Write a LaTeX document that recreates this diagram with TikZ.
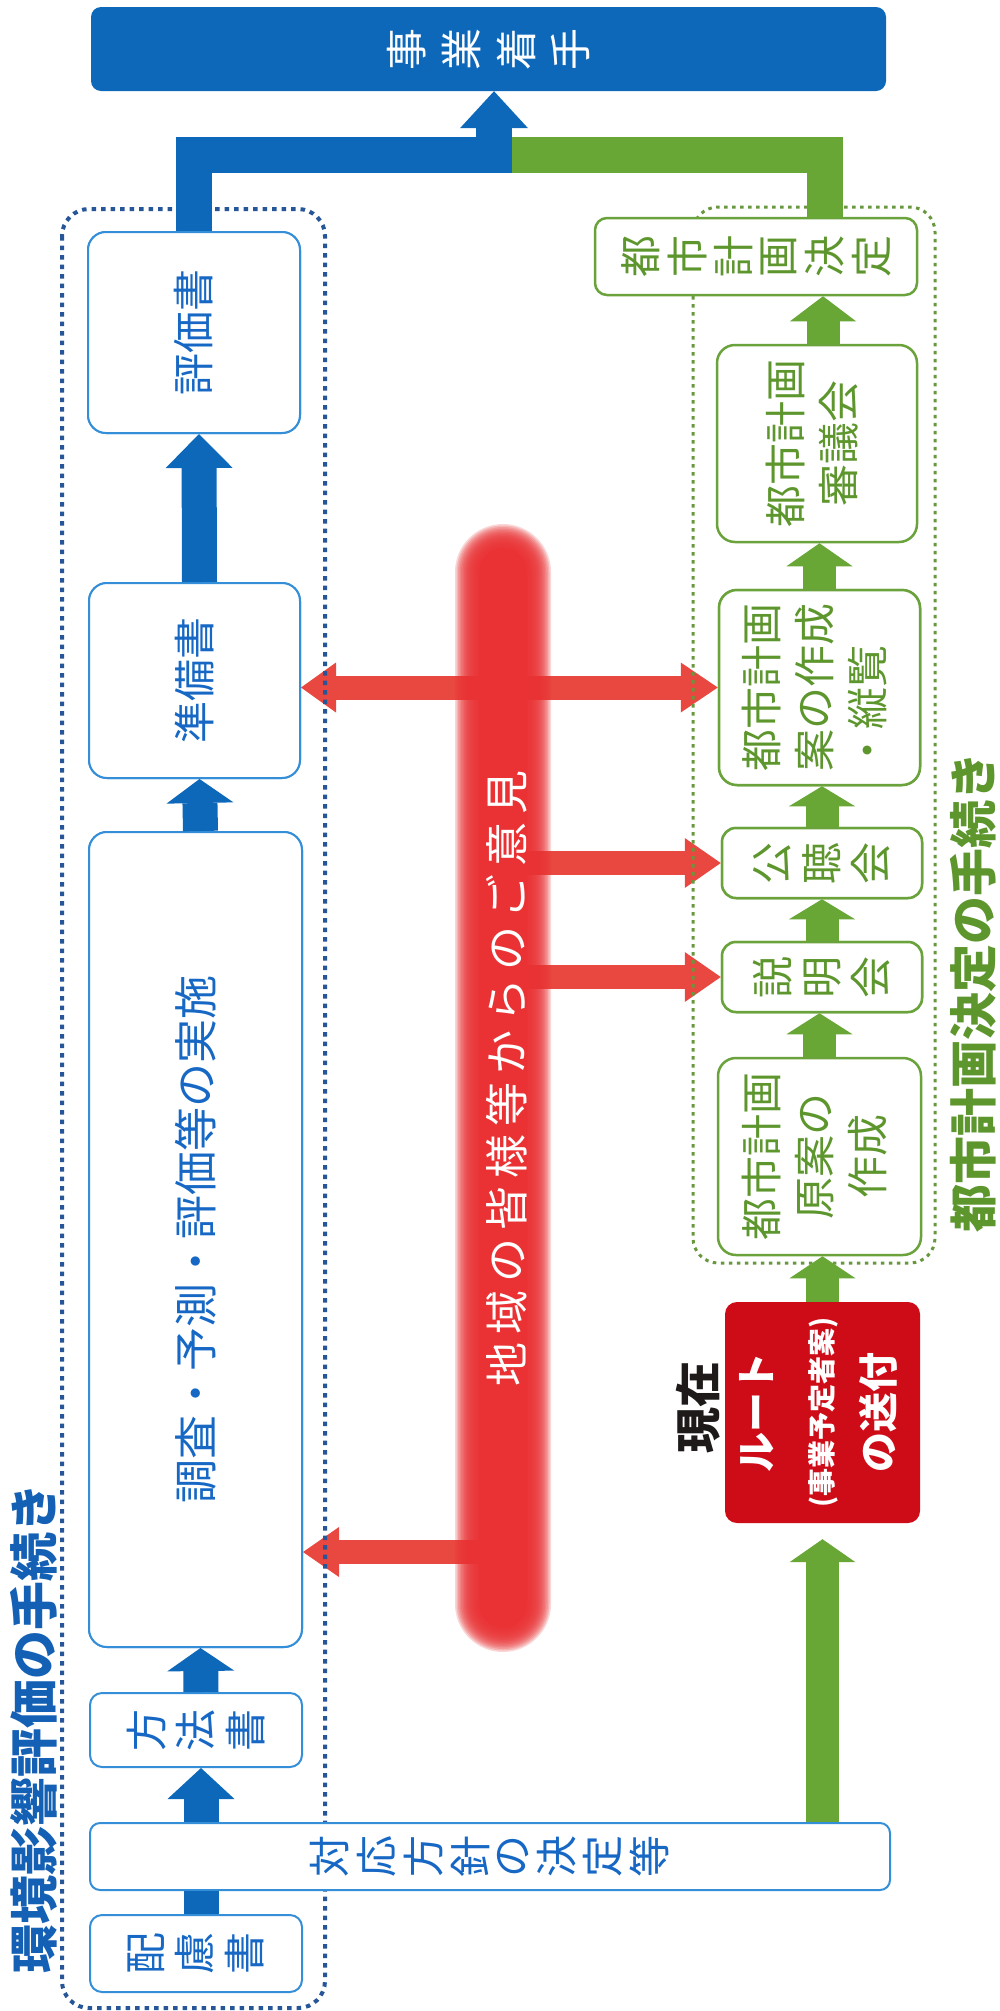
\documentclass[tikz,border=0pt]{standalone}
\usepackage{fontspec}
\usepackage{graphicx}
\newfontfamily\jp{Noto Sans CJK JP}
\usetikzlibrary{arrows.meta}
\definecolor{barblue}{RGB}{14,104,186}
\definecolor{boxblue}{RGB}{52,142,216}
\definecolor{txtblue}{RGB}{22,104,196}
\definecolor{dotblue}{RGB}{38,86,152}
\definecolor{titleblue}{RGB}{20,96,180}
\definecolor{gline}{RGB}{106,162,60}
\definecolor{garrowc}{RGB}{104,166,54}
\definecolor{gtext}{RGB}{94,150,46}
\definecolor{dotgreen}{RGB}{104,152,62}
\definecolor{redarr}{RGB}{232,72,64}
\definecolor{blobred}{RGB}{234,50,52}
\definecolor{routered}{RGB}{206,12,24}
\definecolor{nowblack}{RGB}{30,26,26}
\newcommand\R[1]{\rotatebox{90}{#1}}
\makeatletter
\newcommand\spaced[2]{\def\sp@sep{#1}\sp@first#2\@nil}
\def\sp@first#1{#1\sp@loop}
\def\sp@loop#1{\ifx#1\@nil\else\hspace{\sp@sep}#1\expandafter\sp@loop\fi}
\newcommand\rspaced[2]{\def\sp@sep{#1}\rsp@first#2\@nil}
\def\rsp@first#1{\rotatebox{90}{#1}\rsp@loop}
\def\rsp@loop#1{\ifx#1\@nil\else\hspace{\sp@sep}\rotatebox{90}{#1}\expandafter\rsp@loop\fi}
\makeatother
\tikzset{
  bbox/.style={draw=boxblue, line width=2pt, fill=white, rounded corners=18pt, inner sep=0pt,
    text=txtblue, font=\jp\fontsize{42}{53}\selectfont},
  gbox/.style={draw=gline, line width=2.5pt, fill=white, rounded corners=18pt, inner sep=0pt,
    text=gtext, font=\jp\fontsize{42}{53}\selectfont},
  barrow/.style={draw=barblue, line width=35pt, -{Triangle[length=#1,width=67pt,line width=0pt]}},
  barrow/.default=25pt,
  garrow/.style={draw=garrowc, line width=33pt, -{Triangle[length=#1,width=66pt,line width=0pt]}},
  garrow/.default=22pt,
  rarrow/.style={draw=redarr, line width=24pt, -{Triangle[length=36pt,width=50pt,line width=0pt]}},
  rarrowtwo/.style={draw=redarr, line width=24pt, {Triangle[length=35pt,width=50pt,line width=0pt]}-{Triangle[length=37pt,width=50pt,line width=0pt]}},
}
\begin{document}
\begin{tikzpicture}[x=1pt,y=-1pt]
\fill[white] (0,0) rectangle (1000,2011);
\useasboundingbox (0,0) rectangle (1000,2011);

% invisible node marking the red cloud of opinions
\node[inner sep=0pt, minimum width=95pt, minimum height=1135pt] (blob) at (503,1088) {};
\coordinate (rc) at (503,1552);

% boxes (placed first so that anchors exist)
\node[bbox, minimum width=212pt, minimum height=201pt] (hyoka) at (194,332.5) {};
\node[bbox, minimum width=211pt, minimum height=195pt] (junbi) at (194.5,680.5) {};
\node[bbox, minimum width=213pt, minimum height=815pt] (chosa) at (195.5,1239.5) {};
\node[gbox, minimum width=201pt, minimum height=195pt] (sakusei) at (819.5,687.5) {};
\node[gbox, minimum width=200pt, minimum height=70pt, rounded corners=14pt] (kocho) at (822,863) {};
\node[gbox, minimum width=200pt, minimum height=70pt, rounded corners=14pt] (setsumei) at (822,977) {};

% red arrows (opinions)
\draw[rarrowtwo] (sakusei.west -| junbi.east) -- (sakusei.west);
\draw[rarrow] (blob.center |- kocho.west) -- (kocho.west);
\draw[rarrow] (blob.center |- setsumei.west) -- (setsumei.west);
\draw[rarrow] (rc) -- (rc -| chosa.east);

% dotted group frames
\draw[dotblue, line width=4pt, dash pattern=on 4.5pt off 5pt, rounded corners=27pt] (62,209) rectangle (325,2008);
\draw[dotgreen, line width=3pt, dash pattern=on 3.5pt off 4.5pt, rounded corners=25pt] (693,207) rectangle (935,1263);

% left column (environmental assessment)
\node[bbox, minimum width=212pt, minimum height=201pt] (hyoka) at (194,332.5) {\R{評価書}};
\node[bbox, minimum width=211pt, minimum height=195pt] (junbi) at (194.5,680.5) {\R{準備書}};
\node[bbox, minimum width=213pt, minimum height=815pt, font=\jp\fontsize{44}{53}\selectfont] (chosa) at (195.5,1239.5) {\R{調査・予測・評価等の実施}};
\node[bbox, minimum width=212pt, minimum height=74pt, rounded corners=12pt] (houhou) at (196,1730) {\rspaced{11pt}{方法書}};
\node[bbox, minimum width=800pt, minimum height=67pt, rounded corners=10pt] (taiou) at (490,1856.5) {\rspaced{8pt}{対応方針の決定等}};
\node[bbox, minimum width=212pt, minimum height=77pt, rounded corners=12pt] (hairyo) at (196,1953.5) {\rspaced{11pt}{配慮書}};

% right column (city planning)
\node[gbox, minimum width=322pt, minimum height=77pt, rounded corners=12pt] (kettei) at (756,256.5) {\rspaced{8pt}{都市計画決定}};
\node[gbox, minimum width=200pt, minimum height=197pt] (shingi) at (817,443.5) {\R{\begin{tabular}{@{}c@{}}都市計画\\審議会\end{tabular}}};
\node[gbox, minimum width=201pt, minimum height=195pt] (sakusei) at (819.5,687.5) {\R{\begin{tabular}{@{}l@{}}都市計画\\案の作成\\・縦覧\end{tabular}}};
\node[gbox, minimum width=200pt, minimum height=70pt, rounded corners=14pt] (kocho) at (822,863) {\rspaced{11pt}{公聴会}};
\node[gbox, minimum width=200pt, minimum height=70pt, rounded corners=14pt] (setsumei) at (822,977) {\rspaced{11pt}{説明会}};
\node[gbox, minimum width=203pt, minimum height=197pt] (genan) at (819.5,1156.5) {\R{\begin{tabular}{@{}c@{}}都市計画\\原案の\\作成\end{tabular}}};
\node[fill=routered, rounded corners=12pt, inner sep=0pt, minimum width=195pt, minimum height=221pt, text=white,
  font=\jp\bfseries\fontsize{40}{52}\selectfont] (route) at (822.5,1412.5)
  {\R{\begin{tabular}{@{}c@{}}ルート\\[9pt]{\fontsize{28}{30}\selectfont (事業予定者案)}\\[9pt]の送付\end{tabular}}};

% top bar
\node[fill=barblue, rounded corners=10pt, inner sep=0pt, minimum width=795pt, minimum height=84pt, text=white,
  font=\jp\fontsize{42}{50}\selectfont] (jigyo) at (488.5,49) {\rspaced{16pt}{事業着手}};

% titles and labels
\node[inner sep=0pt, text=titleblue, font=\jp\bfseries\fontsize{49}{55}\selectfont] (ttlenv) at (34,1728) {\R{環境影響評価の手続き}};
\node[inner sep=0pt, text=gtext, font=\jp\bfseries\fontsize{48}{55}\selectfont] (ttlcity) at (973,992) {\R{都市計画決定の手続き}};
\node[inner sep=0pt, text=nowblack, font=\jp\bfseries\fontsize{46}{52}\selectfont] (now) at (698,1407) {\R{現在}};

% red cloud of opinions (soft edge)
\foreach \e in {24,22.5,...,0}{
  \pgfmathsetmacro\rr{24+\e}
  \fill[blobred, opacity=0.2, rounded corners=\rr pt] ({503-24-\e},{1088-540-\e}) rectangle ({503+24+\e},{1088+540+\e});
}
\fill[blobred, rounded corners=24pt] (479,548) rectangle (527,1628);
\node[inner sep=0pt, text=white, font=\jp\fontsize{44}{50}\selectfont] (opinion) at (507,1078) {\R{\spaced{8pt}{地域の皆様等からのご意見}}};

% blue flow
\draw[barrow=34pt] ([xshift=5pt]junbi.north) -- ([xshift=5pt]hyoka.south);
\draw[barrow=24pt] ([xshift=5pt]chosa.north) -- ([xshift=5pt]junbi.south);
\draw[barrow=23pt] ([xshift=5pt]houhou.north) -- ([xshift=5pt]chosa.south);
\draw[barrow=31pt] ([xshift=5pt]houhou.south |- taiou.north) -- ([xshift=5pt]houhou.south);
\draw[draw=barblue, line width=35pt] ([xshift=5pt]hairyo.north) -- ([xshift=5pt]hairyo.north |- taiou.south);

% green flow
\draw[garrow=25pt] ([xshift=6pt]shingi.north) -- ([xshift=6pt]shingi.north |- kettei.south);
\draw[garrow=23pt] (sakusei.north) -- (sakusei.north |- shingi.south);
\draw[garrow=20pt] (kocho.north) -- (kocho.north |- sakusei.south);
\draw[garrow=20pt] (setsumei.north) -- (setsumei.north |- kocho.south);
\draw[garrow=21pt] (genan.north) -- (genan.north |- setsumei.south);
\draw[garrow=22pt] (route.north) -- (route.north |- genan.south);
\draw[garrow=23pt, shorten >=16pt] (route.south |- taiou.north) -- (route.south);

% joining connectors to the top bar
\coordinate (gk) at (825,218);
\coordinate (jg) at (510,155);
\coordinate (jb) at (494,155);
\draw[draw=garrowc, line width=36pt, line join=miter] (gk) |- (jg);
\draw[draw=barblue, line width=36pt, line join=miter, -{Triangle[length=37pt,width=68pt,line width=0pt]}]
  (hyoka.north) |- (jb) -- (jb |- jigyo.south);
\end{tikzpicture}
\end{document}
